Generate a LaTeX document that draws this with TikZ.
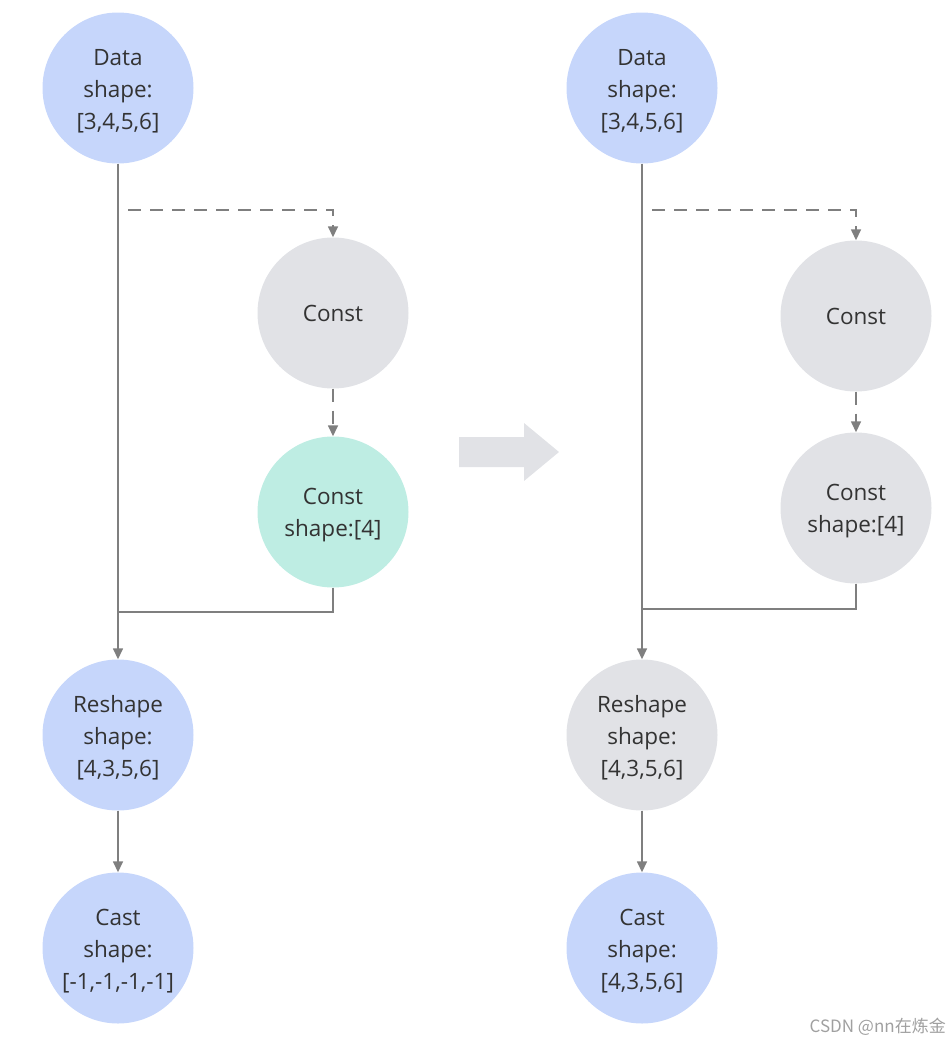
\documentclass[tikz,border=0pt]{standalone}
\usepackage{fontspec}
\setmainfont{Open Sans}
\newfontfamily\cjkfont{Noto Sans CJK SC}
\usetikzlibrary{arrows.meta}
\definecolor{nblue}{HTML}{C6D6FB}
\definecolor{ngrey}{HTML}{E1E2E6}
\definecolor{nteal}{HTML}{BEEDE3}
\definecolor{nline}{HTML}{7F7F7F}
\definecolor{ntext}{HTML}{333333}
\definecolor{nmark}{HTML}{A0A0A0}
\newcommand\dnline[1]{\raisebox{-3pt}[\height][\depth]{#1}}
\begin{document}
\begin{tikzpicture}[x=1pt,y=-1pt,
  opnode/.style={circle,minimum size=151pt,inner sep=0pt,align=center,text=ntext,
    font=\fontsize{22.5}{32}\selectfont},
  bluenode/.style={opnode,fill=nblue},
  greynode/.style={opnode,fill=ngrey},
  tealnode/.style={opnode,fill=nteal},
  wire/.style={draw=nline,line width=1.5pt},
  conn/.style={wire,-{Triangle[length=11pt,width=10pt]}},
  dconn/.style={conn,dash pattern=on 13pt off 9pt}]
\useasboundingbox (0,0) rectangle (950,1044);
% left column
\node[bluenode] (ldata) at (118,88) {\dnline{Data}\\\dnline{shape:}\\\dnline{[3,4,5,6]}};
\node[greynode] (lconst) at (333,313) {Const};
\node[tealnode] (lcs) at (333,512) {\dnline{Const}\\\dnline{shape:[4]}};
\node[bluenode] (lresh) at (118,735) {\dnline{Reshape}\\\dnline{shape:}\\\dnline{[4,3,5,6]}};
\node[bluenode] (lcast) at (118,948) {\dnline{Cast}\\\dnline{shape:}\\\dnline{[-1,-1,-1,-1]}};
\coordinate (ld) at (128,210);
\coordinate (lj) at (118,612);
\draw[conn] (ldata.south) -- (lresh.north);
\draw[dconn] (ld) -| (lconst.north);
\draw[dconn] (lconst.south) -- (lcs.north);
\draw[wire] (lcs.south) |- (lj);
\draw[conn] (lresh.south) -- (lcast.north);
% right column
\node[bluenode] (rdata) at (642,88) {\dnline{Data}\\\dnline{shape:}\\\dnline{[3,4,5,6]}};
\node[greynode] (rconst) at (856,316) {Const};
\node[greynode] (rcs) at (856,508) {\dnline{Const}\\\dnline{shape:[4]}};
\node[greynode] (rresh) at (642,735) {\dnline{Reshape}\\\dnline{shape:}\\\dnline{[4,3,5,6]}};
\node[bluenode] (rcast) at (642,948) {\dnline{Cast}\\\dnline{shape:}\\\dnline{[4,3,5,6]}};
\coordinate (rd) at (652,210);
\coordinate (rj) at (642,609);
\draw[conn] (rdata.south) -- (rresh.north);
\draw[dconn] (rd) -| (rconst.north);
\draw[dconn] (rconst.south) -- (rcs.north);
\draw[wire] (rcs.south) |- (rj);
\draw[conn] (rresh.south) -- (rcast.north);
% block arrow
\fill[ngrey] (459,437) -- (524,437) -- (524,423) -- (559,452) -- (524,481) -- (524,467) -- (459,467) -- cycle;
% watermark
\node[anchor=east,text=nmark,font=\cjkfont\fontsize{17}{20}\selectfont,inner sep=0pt] (mark) at (946,1027) {CSDN @nn在炼金};
\end{tikzpicture}
\end{document}
